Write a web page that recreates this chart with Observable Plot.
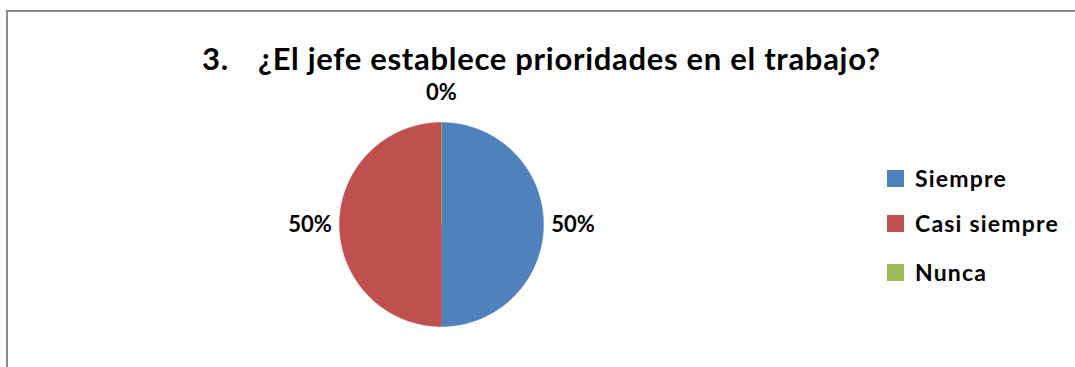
<!DOCTYPE html>
<html>
<head>
<meta charset="utf-8">
<script src="https://cdn.jsdelivr.net/npm/d3@7"></script>
<script src="https://cdn.jsdelivr.net/npm/@observablehq/plot@0.6"></script>
<style>
  body { margin: 0; background: #fff; }
  #wrap { position: relative; width: 1075px; height: 367px; overflow: hidden; background: #fff;
          font-family: Lato, "Open Sans", sans-serif; font-weight: bold; color: #000; }
  #chart { position: absolute; left: 0; top: 0; }
  #frame { position: absolute; left: 6px; top: 10px; right: -10px; bottom: -10px;
           border-left: 2px solid #8c8c8c; border-top: 2px solid #8c8c8c; pointer-events: none; }
  #title { position: absolute; top: 43px; left: 0; width: 1075px; height: 32px; font-size: 31px; line-height: 1; white-space: nowrap; letter-spacing: 0.7px; }
  #title span { position: absolute; top: 0; }
  #legend { position: absolute; left: 887px; top: 0; }
  .item { position: absolute; left: 0; white-space: nowrap; font-size: 23px; line-height: 1; letter-spacing: 1.2px; }
  .sw { position: absolute; left: 0; width: 17px; height: 17px; }
  .lab { position: absolute; left: 28px; }
</style>
</head>
<body>
<div id="wrap">
  <div id="chart"></div>
  <div id="title"><span id="tnum" style="left:202px">3.</span><span id="ttext" style="left:258px">¿El jefe establece prioridades en el trabajo?</span></div>
  <div id="legend"></div>
  <div id="frame"></div>
</div>
<script>
// ---- data ----
const categories = ["Siempre", "Casi siempre", "Nunca"];
const values = [50, 50, 0];
const labels = ["50%", "50%", "0%"];
const colors = ["#4f81bd", "#c0504d", "#9bbb59"];

// ---- layout (pixels) ----
const W = 1075, H = 367;
const cx = 441, cy = 224, R = 102;
const labelRadius = 1.29;

// build slice polygons from the values (angles clockwise from 12 o'clock)
const total = d3.sum(values);
const slices = [];
const labelRows = [];
let acc = 0;
categories.forEach((cat, i) => {
  const a0 = acc / total * 2 * Math.PI;
  acc += values[i];
  const a1 = acc / total * 2 * Math.PI;
  const n = Math.max(2, Math.ceil((a1 - a0) / (Math.PI / 360)));
  slices.push({cat, x: 0, y: 0});
  for (let k = 0; k <= n; k++) {
    const a = a0 + (a1 - a0) * k / n;
    slices.push({cat, x: Math.sin(a), y: Math.cos(a)});
  }
  slices.push({cat, x: 0, y: 0});
  const am = (a0 + a1) / 2;
  labelRows.push({cat, label: labels[i], x: labelRadius * Math.sin(am), y: labelRadius * Math.cos(am)});
});

const plot = Plot.plot({
  width: W,
  height: H,
  margin: 0,
  style: {background: "transparent", overflow: "visible"},
  x: {domain: [-cx / R, (W - cx) / R], axis: null},
  y: {domain: [-(H - cy) / R, cy / R], axis: null},
  color: {domain: categories, range: colors},
  marks: [
    Plot.line(slices, {x: "x", y: "y", z: "cat", fill: "cat", stroke: "cat", strokeWidth: 0.5, curve: "linear"}),
    Plot.text(labelRows, {x: "x", y: "y", text: "label", fontSize: 22, fontWeight: "bold",
      fontFamily: "Lato, 'Open Sans', sans-serif", fill: "#000", textAnchor: "middle", lineAnchor: "middle"})
  ]
});
document.getElementById("chart").appendChild(plot);

// legend built from the same arrays
const legendTops = [170, 215, 264];
const legend = document.getElementById("legend");
categories.forEach((cat, i) => {
  const it = document.createElement("div");
  it.className = "item";
  it.style.top = legendTops[i] + "px";
  const sw = document.createElement("div");
  sw.className = "sw"; sw.style.background = colors[i]; sw.style.top = "0px";
  const lb = document.createElement("span");
  lb.className = "lab"; lb.textContent = cat; lb.style.top = "-3px";
  it.appendChild(sw); it.appendChild(lb);
  legend.appendChild(it);
});
</script>
</body>
</html>
